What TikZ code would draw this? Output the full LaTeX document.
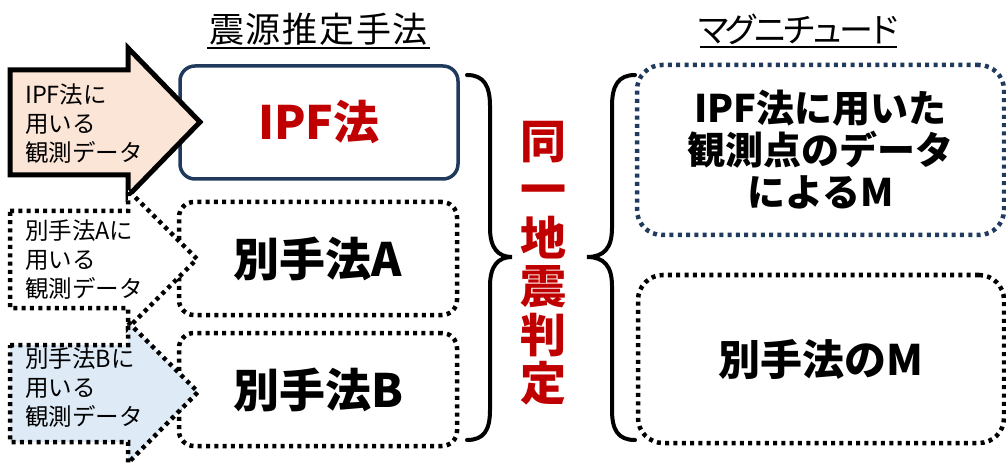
\documentclass[tikz,border=0pt]{standalone}
\usepackage{fontspec}
\setmainfont{Noto Sans CJK JP}
\definecolor{navy}{HTML}{203A5E}
\definecolor{jred}{HTML}{C00000}
\definecolor{peach}{HTML}{FBE5D6}
\definecolor{pale}{HTML}{DEEBF7}
\tikzset{
  dotline/.style={line width=4.5pt, dash pattern=on 4pt off 4.3pt},
  methodbox/.style={draw, rounded corners=15pt, minimum width=278pt, minimum height=113pt, inner sep=0pt,
     font=\fontsize{46}{50}\selectfont\bfseries},
  magbox/.style={draw, dotline, rounded corners=25pt, inner sep=0pt, align=center,
     font=\fontsize{38}{42}\selectfont\bfseries},
  blockarrow/.style={line width=5pt, miter limit=10},
  arrowtext/.style={anchor=west, inner sep=0pt, align=left, font=\fontsize{23.5}{29}\selectfont},
  title/.style={inner sep=0pt, font=\fontsize{35}{38}\selectfont},
  bracepath/.style={line width=4pt, line cap=round},
}
\begin{document}
\begin{tikzpicture}[x=1pt,y=-1pt]
\useasboundingbox (0,0) rectangle (1006,470);
\clip (0,0) rectangle (1006,470);
% titles
\node[title] (t1) at (318.5,29) {\addfontfeature{LetterSpace=5}震源推定手法};
\draw[line width=2pt] (207,48) -- (430,48);
\node[title] (t2) at (799,29) {\fontsize{34}{36}\selectfont\addfontfeature{LetterSpace=-16}マグニチュード};
\draw[line width=2pt] (700,47) -- (897,47);
% method boxes
\node[methodbox, draw=navy, line width=3.5pt, text=jred] (ipf) at (319,122.5) {IPF法};
\node[methodbox, dotline] (ba) at (318,258.5) {別手法A};
\node[methodbox, dotline] (bb) at (318,389.5) {別手法B};
% magnitude boxes
\node[magbox, draw=navy, minimum width=367pt, minimum height=170pt] (m1) at (820.5,150)
  {\fontsize{38}{42}\selectfont IPF法に用いた\\観測点のデータ\\によるM};
\node[magbox, minimum width=366pt, minimum height=168pt, font=\fontsize{42}{46}\selectfont\bfseries] (m2) at (821,359) {別手法のM};
% block arrows
\draw[blockarrow, fill=peach] (10,70) -- (128,70) -- (128,48) -- (200,122) -- (128,196) -- (128,175) -- (10,175) -- cycle;
\draw[dotline, fill=white] (10,211) -- (128,211) -- (128,190) -- (197,259) -- (128,328) -- (128,308) -- (10,308) -- cycle;
\draw[dotline, fill=pale] (10,345) -- (128,345) -- (128,322) -- (198,392) -- (128,463) -- (128,442) -- (10,442) -- cycle;
\node[arrowtext] (a1) at (25,124) {IPF法に\\用いる\\観測データ};
\node[arrowtext] (a2) at (25,260) {別手法Aに\\用いる\\観測データ};
\node[arrowtext] (a3) at (25,388) {別手法Bに\\用いる\\観測データ};
% braces
\draw[bracepath] (467,75) .. controls (484,75) and (490,86) .. (490,106) -- (490,228)
  .. controls (490,248) and (498,257) .. (512,257)
  .. controls (498,257) and (490,266) .. (490,286) -- (490,410)
  .. controls (490,430) and (484,440) .. (467,440);
\draw[bracepath] (635,75) .. controls (618,75) and (612,86) .. (612,106) -- (612,228)
  .. controls (612,248) and (604,257) .. (587,257)
  .. controls (604,257) and (612,266) .. (612,286) -- (612,410)
  .. controls (612,430) and (618,440) .. (635,440);
% vertical label
\node[inner sep=0pt, align=center, text=jred, font=\fontsize{46}{48.5}\selectfont\bfseries] (same) at (543,263)
  {同\\一\\地\\震\\判\\定};
\end{tikzpicture}
\end{document}
